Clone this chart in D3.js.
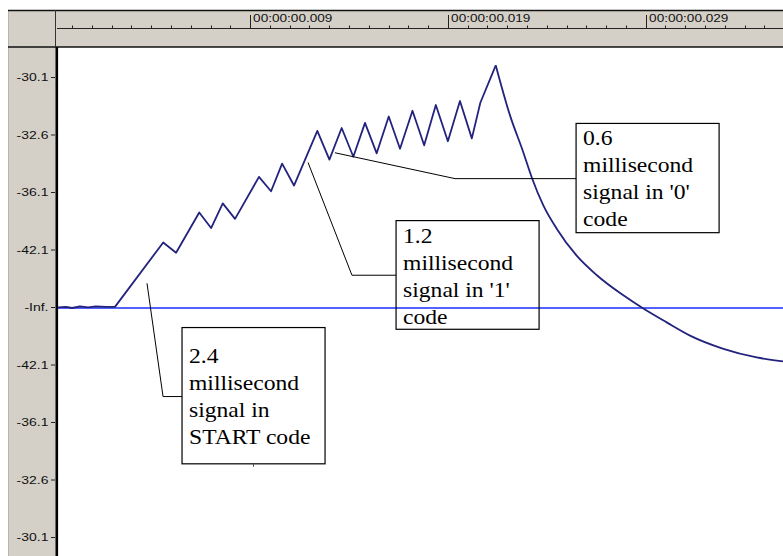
<!DOCTYPE html>
<html>
<head>
<meta charset="utf-8">
<script src="https://cdn.jsdelivr.net/npm/d3@7"></script>
<style>
  html, body { margin: 0; padding: 0; background: #fff; }
  svg { display: block; }
</style>
</head>
<body>
<svg id="chart" width="783" height="556"></svg>
<script>
// --- data (time in ms, amplitude in "tick units") ---
// rising part: pulse train (START, then '1' / '0' codes)
const riseTime = [
  0, 0.46, 0.76, 1.16, 1.57, 1.97, 2.48, 2.93,
  5.37, 6.02, 7.19, 7.79, 8.38, 9.00, 10.21, 10.82, 11.38, 11.98,
  13.16, 13.77, 14.39, 14.98, 15.57, 16.16, 16.77, 17.34, 17.97, 18.56,
  19.15, 19.76, 20.37, 20.97, 21.40, 22.18
];
const riseAmp = [
  0.01, 0.02, 0, 0.03, 0.01, 0.03, 0.02, 0.02,
  1.14, 0.96, 1.66, 1.39, 1.82, 1.55, 2.28, 2.03, 2.51, 2.13,
  3.08, 2.58, 3.13, 2.63, 3.22, 2.69, 3.33, 2.77, 3.43, 2.83,
  3.53, 2.90, 3.60, 2.95, 3.57, 4.22
];
// decay after the last pulse
const decayTime = [22.18, 22.90, 23.57, 24.00, 24.59, 25.26, 26.27, 27.29, 28.63, 29.64, 30.82, 32.00, 33.69, 35.37, 36.70];
const decayAmp = [4.22, 3.35, 2.71, 2.27, 1.78, 1.38, 0.91, 0.57, 0.22, -0.01, -0.25, -0.48, -0.71, -0.86, -0.93];

const yTicks = [4, 3, 2, 1, 0, -1, -2, -3, -4];
const yTickLabels = ["-30.1", "-32.6", "-36.1", "-42.1", "-Inf.", "-42.1", "-36.1", "-32.6", "-30.1"];

const rulerMajor = [9.76, 19.77, 29.78];
const rulerLabels = ["00:00:00.009", "00:00:00.019", "00:00:00.029"];

// annotation boxes: pointer tip, elbow, box corners (all in ms / amplitude)
const noteLines = [
  ["0.6", "millisecond", "signal in '0'", "code"],
  ["1.2", "millisecond", "signal in '1'", "code"],
  ["2.4", "millisecond", "signal in", "START code"],
];
const noteTip = [[14.05, 2.70], [12.69, 2.53], [4.55, 0.43]];
const noteElbow = [[20.12, 2.25], [14.91, 0.57], [5.36, -1.54]];
const noteBox = [[26.24, 3.21, 33.47, 1.31], [17.14, 1.52, 24.37, -0.37], [6.32, -0.34, 13.55, -2.71]];

const COLORS = {
  panel: "#d4d0c8",
  wave: "#23237e",
  zero: "#1a2cff",
};

const W = 783, H = 556;

const svg = d3.select("#chart");

const x = d3.scaleLinear().domain([0, 36.7]).range([57, 783]);
const y = d3.scaleLinear().domain([-4, 4]).range([538, 78]);

// --- window chrome ---
svg.append("rect").attr("x", 0).attr("y", 0).attr("width", W).attr("height", H).attr("fill", "#fff");
svg.append("rect").attr("x", 8).attr("y", 10).attr("width", W - 8).attr("height", 37).attr("fill", COLORS.panel);
svg.append("rect").attr("x", 8).attr("y", 47).attr("width", 48).attr("height", H - 47).attr("fill", COLORS.panel);
svg.append("line").attr("x1", 8.5).attr("x2", 8.5).attr("y1", 10).attr("y2", H).attr("stroke", "#b8b5ae");

svg.append("line").attr("x1", 8).attr("x2", W).attr("y1", 10.5).attr("y2", 10.5).attr("stroke", "#111").attr("stroke-width", 1.5);
svg.append("line").attr("x1", 8).attr("x2", W).attr("y1", 47).attr("y2", 47).attr("stroke", "#111").attr("stroke-width", 1.5);
svg.append("line").attr("x1", 55.5).attr("x2", 55.5).attr("y1", 10).attr("y2", 47).attr("stroke", "#333");

// plot area
svg.append("rect").attr("x", 58).attr("y", 48).attr("width", W - 58).attr("height", H - 48).attr("fill", "#fff");
svg.append("line").attr("x1", 56.8).attr("x2", 56.8).attr("y1", 47).attr("y2", H).attr("stroke", "#000").attr("stroke-width", 2.6);

// --- time ruler ---
const ruler = svg.append("g").attr("class", "ruler");
ruler.append("line").attr("x1", 57).attr("x2", W).attr("y1", 28.5).attr("y2", 28.5).attr("stroke", "#222");

const minor = d3.range(-9, 28).map((k) => rulerMajor[0] + k).filter((t) => x(t) > 58 && x(t) < W);
ruler.selectAll("line.minor")
  .data(minor)
  .join("line")
  .attr("class", "minor")
  .attr("x1", (d) => Math.round(x(d)) + 0.5)
  .attr("x2", (d) => Math.round(x(d)) + 0.5)
  .attr("y1", 25.5)
  .attr("y2", 28.5)
  .attr("stroke", "#222");

ruler.selectAll("line.major")
  .data(rulerMajor)
  .join("line")
  .attr("class", "major")
  .attr("x1", (d) => Math.round(x(d)) + 0.5)
  .attr("x2", (d) => Math.round(x(d)) + 0.5)
  .attr("y1", 15)
  .attr("y2", 28.5)
  .attr("stroke", "#222");

ruler.selectAll("text")
  .data(rulerMajor)
  .join("text")
  .attr("transform", (d) => `translate(${x(d) + 3},22) scale(1.36,1)`)
  .attr("font-family", "Liberation Sans, Arial, sans-serif")
  .attr("font-size", 10)
  .attr("fill", "#111")
  .text((d, i) => rulerLabels[i]);

// --- amplitude axis ---
const yAxis = svg.append("g").attr("class", "y-axis");
yAxis.selectAll("line")
  .data(yTicks)
  .join("line")
  .attr("x1", 51)
  .attr("x2", 55)
  .attr("y1", (d) => y(d) - 0.5)
  .attr("y2", (d) => y(d) - 0.5)
  .attr("stroke", "#222");

yAxis.selectAll("text")
  .data(yTicks)
  .join("text")
  .attr("transform", (d) => `translate(48.5,${y(d) + 3.2}) scale(1.4,1)`)
  .attr("text-anchor", "end")
  .attr("font-family", "Liberation Sans, Arial, sans-serif")
  .attr("font-size", 10)
  .attr("fill", "#111")
  .text((d, i) => yTickLabels[i]);

// --- waveform ---
svg.append("clipPath").attr("id", "clip")
  .append("rect").attr("x", 58).attr("y", 48).attr("width", W - 58).attr("height", H - 48);

const gPlot = svg.append("g").attr("clip-path", "url(#clip)");

gPlot.append("line")
  .attr("x1", 58).attr("x2", W)
  .attr("y1", y(0)).attr("y2", y(0))
  .attr("stroke", COLORS.zero)
  .attr("stroke-width", 1.4);

const line = d3.line()
  .x((d) => x(d[0]))
  .y((d) => y(d[1]));

gPlot.append("path")
  .datum(riseTime.map((t, i) => [t, riseAmp[i]]))
  .attr("fill", "none")
  .attr("stroke", COLORS.wave)
  .attr("stroke-width", 1.8)
  .attr("stroke-linejoin", "round")
  .attr("d", line);

gPlot.append("path")
  .datum(decayTime.map((t, i) => [t, decayAmp[i]]))
  .attr("fill", "none")
  .attr("stroke", COLORS.wave)
  .attr("stroke-width", 1.8)
  .attr("d", line.curve(d3.curveMonotoneX));

// --- annotations ---
const notes = svg.append("g").attr("class", "notes");
noteLines.forEach((lines, i) => {
  const [t0, a0, t1, a1] = noteBox[i];
  const bx = x(t0), by = y(a0), bw = x(t1) - x(t0), bh = y(a1) - y(a0);
  const tip = noteTip[i], elbow = noteElbow[i];

  notes.append("polyline")
    .attr("points", [[x(tip[0]), y(tip[1])], [x(elbow[0]), y(elbow[1])], [bx, y(elbow[1])]].join(" "))
    .attr("fill", "none")
    .attr("stroke", "#000")
    .attr("stroke-width", 1);

  notes.append("rect")
    .attr("x", bx).attr("y", by)
    .attr("width", bw).attr("height", bh)
    .attr("fill", "none")
    .attr("stroke", "#000")
    .attr("stroke-width", 1.2);

  // the tall START box has its text pushed down
  const top = by + (i === 2 ? 35.5 : 22);
  lines.forEach((s, j) => {
    notes.append("text")
      .attr("transform", `translate(${bx + 7},${top + j * 27}) scale(1.18,1)`)
      .attr("font-family", "Liberation Serif, Times New Roman, serif")
      .attr("font-size", 20)
      .attr("fill", "#000")
      .text(s);
  });
});

// small cursor mark under the START box
notes.append("line")
  .attr("x1", 253.5).attr("x2", 253.5)
  .attr("y1", y(noteBox[2][3])).attr("y2", y(noteBox[2][3]) + 3)
  .attr("stroke", "#555");
</script>
</body>
</html>
